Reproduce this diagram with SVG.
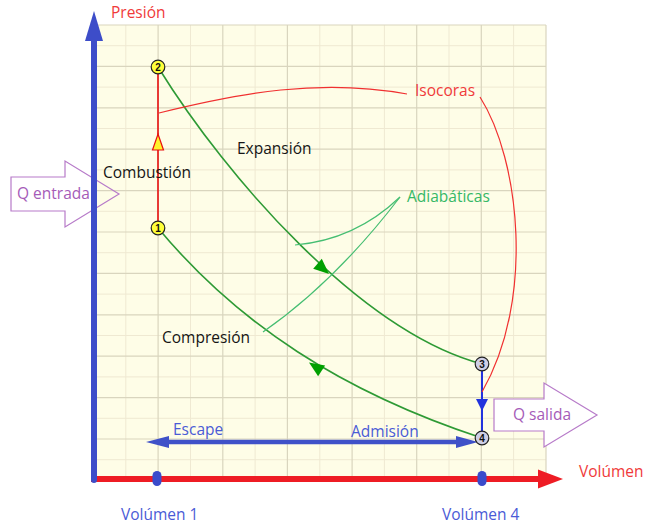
<svg xmlns="http://www.w3.org/2000/svg" width="645" height="524" viewBox="0 0 645 524">
<style>
.t{font-family:"Open Sans","Noto Sans","Liberation Sans",sans-serif;font-size:15.5px}
.red{fill:#F03A3A}
.blk{fill:#151515}
.pur{fill:#A55BB8}
.blu{fill:#4A5BD6}
.grn{fill:#35B866}
.minor{stroke:#EFE9D2;stroke-width:1;fill:none}
.major{stroke:#D9D5BE;stroke-width:1.2;fill:none}
.adi{stroke:#2E9A35;stroke-width:1.6;fill:none}
.ann-g{stroke:#45BE72;stroke-width:1.2;fill:none}
.ann-r{stroke:#F03030;stroke-width:1.2;fill:none}
.qarrow{stroke:#B77BC9;stroke-width:1.2}
.pt{stroke:#222;stroke-width:1.2}
.num{font-family:"Liberation Sans",Arial,sans-serif;font-size:10px;font-weight:bold;fill:#111;text-anchor:middle}
</style>
<g id="grid">
<rect x="93.5" y="25" width="452.5" height="455.4" fill="#FEFDE7"/>
<path class="minor" d="M125.8 25V480.4M190.5 25V480.4M255.1 25V480.4M319.8 25V480.4M384.4 25V480.4M449 25V480.4M513.6 25V480.4M93.5 45.7H546M93.5 87.1H546M93.5 128.5H546M93.5 169.9H546M93.5 211.3H546M93.5 252.7H546M93.5 294.1H546M93.5 335.5H546M93.5 376.9H546M93.5 418.3H546M93.5 459.7H546"/>
<path class="major" d="M158.1 25V480.4M222.8 25V480.4M287.4 25V480.4M352.1 25V480.4M416.7 25V480.4M481.3 25V480.4M546 25V480.4M93.5 25H546M93.5 66.4H546M93.5 107.8H546M93.5 149.2H546M93.5 190.6H546M93.5 232H546M93.5 273.4H546M93.5 314.8H546M93.5 356.2H546M93.5 397.6H546M93.5 439H546"/>
</g>
<g id="q-entrada">
<path class="qarrow" fill="none" d="M11 177H65V161L119 194L65 227V211H11Z"/>
<text class="t pur" x="17" y="199">Q entrada</text>
</g>
<g id="q-salida">
<path class="qarrow" fill="#FFFFFF" d="M494 399H544V383L597 415L544 447V431H494Z"/>
<text class="t pur" x="513" y="420">Q salida</text>
</g>
<g id="connectors">
<path id="adiabata-2-3" class="adi" d="M158 67C228 180 362 332 482 364"/>
<path fill="#00A000" d="M329 274L321.8 258.8L313.2 268.7Z"/>
<path id="adiabata-4-1" class="adi" d="M482 438C342 392 238 324 158 228"/>
<path fill="#00A000" d="M309 362.5L325.1 365.4L318.1 376.3Z"/>
<path id="isocora-1-2" d="M158 228V67" stroke="#E81010" stroke-width="1.6" fill="none"/>
<path d="M158 134L163.5 150L152.5 150Z" fill="#FFF22A" stroke="#E81010" stroke-width="1.2"/>
<path id="isocora-3-4" d="M482 364V438" stroke="#2233DD" stroke-width="2" fill="none"/>
<path d="M476 399H488L482 411Z" fill="#2233DD"/>
<path class="ann-r" d="M159 113C240 93 320 78 407 94"/>
<path class="ann-r" d="M480 97C520 160 535 300 482 392"/>
<path class="ann-g" d="M400 197Q355 240 295 245"/>
<path class="ann-g" d="M400 197Q335 282 263 332"/>
<path id="escape-admision" d="M166 442H460" stroke="#3F51C8" stroke-width="4.5" fill="none"/>
<path d="M146 442L169 436L169 448Z" fill="#3F51C8"/>
<path d="M478 442L456 436L456 448Z" fill="#3F51C8"/>
</g>
<g id="axes">
<path d="M91 479H540" stroke="#EE1C24" stroke-width="6" fill="none"/>
<path d="M563 479L538 469.5L538 488.5Z" fill="#EE1C24"/>
<path d="M94 480V38" stroke="#3D4DC9" stroke-width="6" stroke-linecap="round" fill="none"/>
<path d="M94 11L103 41L85 41Z" fill="#3D4DC9"/>
<rect x="152.5" y="471" width="9" height="15" rx="4.5" fill="#3A4BCB"/>
<rect x="477.5" y="471" width="9" height="15" rx="4.5" fill="#3A4BCB"/>
</g>
<g id="p1"><circle class="pt" cx="158" cy="228" r="6.8" fill="#FFFF3A"/><text class="num" x="158" y="231.6">1</text></g>
<g id="p2"><circle class="pt" cx="158" cy="67" r="6.8" fill="#FFFF3A"/><text class="num" x="158" y="70.6">2</text></g>
<g id="p3"><circle class="pt" cx="482" cy="364" r="6.8" fill="#CFCFE6"/><text class="num" x="482" y="367.6">3</text></g>
<g id="p4"><circle class="pt" cx="482" cy="438" r="6.8" fill="#CFCFE6"/><text class="num" x="482" y="441.6">4</text></g>
<g id="labels">
<text class="t red" x="111" y="18">Presión</text>
<text class="t red" x="415" y="96">Isocoras</text>
<text class="t grn" x="407" y="202">Adiabáticas</text>
<text class="t blk" x="237" y="154">Expansión</text>
<text class="t blk" x="103" y="178">Combustión</text>
<text class="t blk" x="162" y="343">Compresión</text>
<text class="t blu" x="173" y="435">Escape</text>
<text class="t blu" x="351" y="437">Admisión</text>
<text class="t blu" x="121" y="520">Volúmen 1</text>
<text class="t blu" x="442" y="520">Volúmen 4</text>
<text class="t red" x="579" y="477">Volúmen</text>
</g>
</svg>
